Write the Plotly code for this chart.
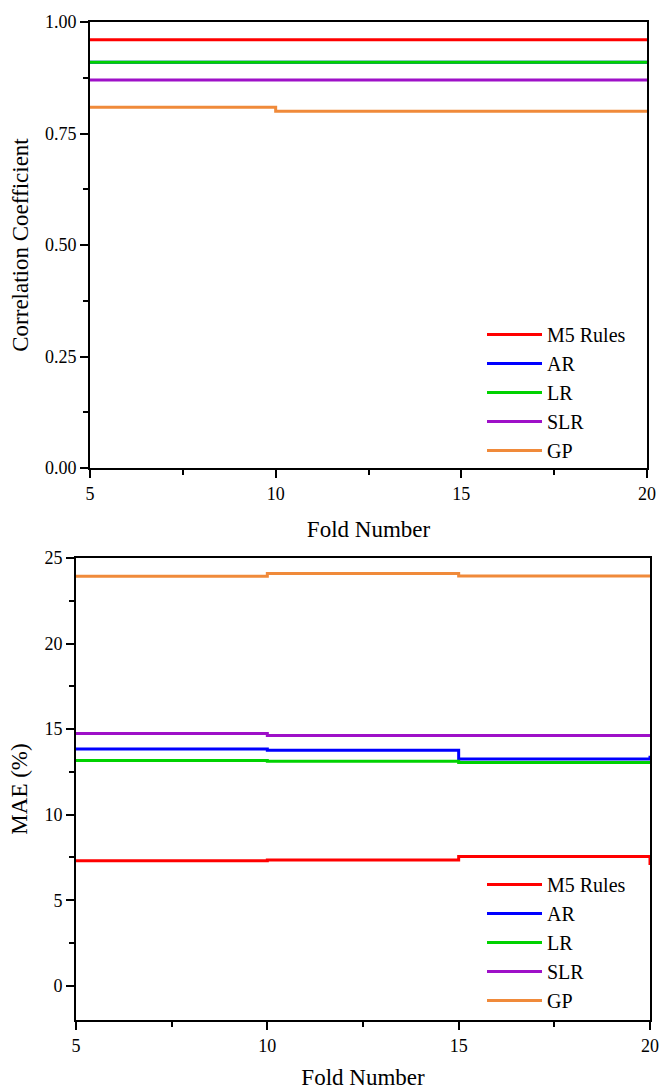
import plotly.graph_objects as go

folds = [5, 10, 15, 20]
models = ["M5 Rules", "AR", "LR", "SLR", "GP"]
colors = ["#FF0000", "#0000FF", "#00D200", "#9E10C8", "#F08A3A"]

cc_m5 = [0.960, 0.960, 0.960, 0.960]
cc_ar = [0.910, 0.910, 0.910, 0.910]
cc_lr = [0.910, 0.910, 0.910, 0.910]
cc_slr = [0.870, 0.870, 0.870, 0.870]
cc_gp = [0.809, 0.800, 0.800, 0.800]

mae_m5 = [7.31, 7.35, 7.55, 7.06]
mae_ar = [13.84, 13.76, 13.26, 13.45]
mae_lr = [13.16, 13.12, 13.05, 13.05]
mae_slr = [14.75, 14.63, 14.63, 14.63]
mae_gp = [23.93, 24.10, 23.95, 23.95]

cc_series = [cc_m5, cc_ar, cc_lr, cc_slr, cc_gp]
mae_series = [mae_m5, mae_ar, mae_lr, mae_slr, mae_gp]

W, H = 667, 1090
FONT = "Times New Roman, Liberation Serif, serif"

fig = go.Figure()
for name, col, ys in zip(models, colors, cc_series):
    fig.add_trace(go.Scatter(x=folds, y=ys, mode="lines", name=name,
                             line=dict(color=col, width=3, shape="hv"),
                             xaxis="x", yaxis="y", legend="legend"))
for name, col, ys in zip(models, colors, mae_series):
    fig.add_trace(go.Scatter(x=folds, y=ys, mode="lines", name=name,
                             line=dict(color=col, width=3, shape="hv"),
                             xaxis="x2", yaxis="y2", legend="legend2"))

def xax(domain, anchor):
    return dict(domain=domain, anchor=anchor, range=[5, 20], dtick=5, tick0=5,
                showline=True, linecolor="black", linewidth=2, mirror=True,
                ticks="outside", ticklen=8, tickwidth=2, tickcolor="black",
                minor=dict(dtick=2.5, tick0=5, ticks="outside", ticklen=5, tickwidth=2, tickcolor="black"),
                showgrid=False, zeroline=False, automargin=False,
                tickfont=dict(family=FONT, size=18, color="black"),
                title=dict(text="Fold Number", font=dict(family=FONT, size=23, color="black"), standoff=18))

def yax(domain, anchor, rng, dtick, mdtick, fmt, title):
    return dict(domain=domain, anchor=anchor, range=rng, dtick=dtick, tick0=0,
                tickformat=fmt,
                showline=True, linecolor="black", linewidth=2, mirror=True,
                ticks="outside", ticklen=8, tickwidth=2, tickcolor="black",
                minor=dict(dtick=mdtick, tick0=0, ticks="outside", ticklen=5, tickwidth=2, tickcolor="black"),
                showgrid=False, zeroline=False, automargin=False,
                tickfont=dict(family=FONT, size=18, color="black"),
                title=dict(text=title, font=dict(family=FONT, size=23, color="black"), standoff=10))

leg = dict(font=dict(family=FONT, size=20, color="black"), bgcolor="rgba(0,0,0,0)",
           borderwidth=0, xanchor="left", yanchor="top", tracegroupgap=0, itemwidth=55)

fig.update_layout(
    width=W, height=H,
    margin=dict(l=0, r=0, t=0, b=0),
    paper_bgcolor="white", plot_bgcolor="white",
    font=dict(family=FONT, color="black"),
    xaxis=xax([90 / W, 647 / W], "y"),
    yaxis=yax([1 - 468 / H, 1 - 22 / H], "x", [0, 1], 0.25, 0.125, ".2f", "Correlation Coefficient"),
    xaxis2=xax([76 / W, 650 / W], "y2"),
    yaxis2=yax([1 - 1020 / H, 1 - 558 / H], "x2", [-2, 25], 5, 2.5, "d", "MAE (%)"),
    legend=dict(leg, x=482 / W, y=1 - 315 / H),
    legend2=dict(leg, x=482 / W, y=1 - 865 / H),
)

fig.write_html("out.html")
